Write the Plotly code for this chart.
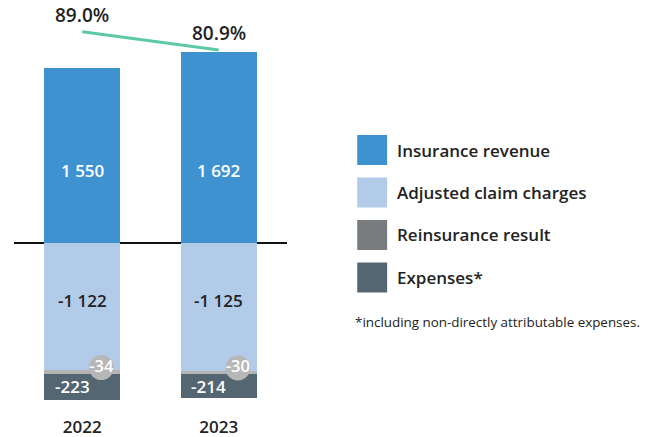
import plotly.graph_objects as go

# ---------------- data ----------------
years = ["2022", "2023"]
revenue = [1550, 1692]
claims = [-1122, -1125]
reinsurance = [-34, -30]
expenses = [-223, -214]
combined_ratio = [89.0, 80.9]
series_names = ["Insurance revenue", "Adjusted claim charges", "Reinsurance result", "Expenses*"]
footnote = "*including non-directly attributable expenses."

# ---------------- styles ----------------
C_REV = "#3e92d0"
C_CLAIM = "#b1cbe8"
C_REIN_BAR = "#b4b4b4"
C_REIN_LEG = "#797c7f"
C_EXP = "#546672"
C_LINE = "#5cc8a7"
C_TEXT = "#222222"
FONT = "Open Sans"

W, H = 646, 437
PL, PR = 13.5, 287.5      # plot area in pixels (x)
PT, PB = 8.0, 413.0       # plot area in pixels (y)
ZERO_PX = 243.3
SCALE = 0.1133            # px per unit
yr = [-(PB - ZERO_PX) / SCALE, (ZERO_PX - PT) / SCALE]

# secondary axis for combined ratio
R_PX = [31.7, 50.0]
r_scale = (R_PX[1] - R_PX[0]) / (combined_ratio[0] - combined_ratio[1])
def r_at(p):
    return combined_ratio[0] + (R_PX[0] - p) / r_scale
y2r = [r_at(PB), r_at(PT)]

def px_x(p):
    return (p - PL) / (PR - PL)

def px_y(p):
    return (PB - p) / (PB - PT)

def fmt(v):
    return f"{v:,}".replace(",", " ")

xs = list(range(len(years)))
BW = 0.555

fig = go.Figure()
fig.add_trace(go.Bar(x=xs, y=revenue, marker_color=C_REV, width=BW, name=series_names[0], showlegend=False))
fig.add_trace(go.Bar(x=xs, y=claims, marker_color=C_CLAIM, width=BW, name=series_names[1], showlegend=False))
fig.add_trace(go.Bar(x=xs, y=reinsurance, marker_color=C_REIN_BAR, width=BW, name=series_names[2], showlegend=False))
fig.add_trace(go.Bar(x=xs, y=expenses, marker_color=C_EXP, width=BW, name=series_names[3], showlegend=False))
for tr in fig.data:
    tr.marker.line.width = 0
    tr.hoverinfo = "skip"

# combined ratio line
fig.add_trace(go.Scatter(
    x=xs, y=combined_ratio, yaxis="y2", mode="lines",
    line=dict(color=C_LINE, width=3),
    showlegend=False, hoverinfo="skip", cliponaxis=False))

# reinsurance circles
CIRC_DX = 0.14
fig.add_trace(go.Scatter(
    x=[x + CIRC_DX for x in xs], y=[c + 25 for c in claims], mode="markers+text",
    marker=dict(size=25, color="#b7b7b7", line=dict(width=0)),
    text=[str(v) for v in reinsurance], textposition="middle center",
    textfont=dict(family=FONT, size=16.5, color="white", weight=600),
    showlegend=False, hoverinfo="skip", cliponaxis=False))

annotations = []
for x, v in zip(xs, combined_ratio):
    annotations.append(dict(x=x, y=v, yref="y2", text=f"{v:.1f}%", showarrow=False, yshift=17,
                            font=dict(family=FONT, size=19, color=C_TEXT, weight=600)))
rev_label_y = (ZERO_PX - 170) / SCALE
for x, v in zip(xs, revenue):
    annotations.append(dict(x=x, y=rev_label_y, text=fmt(v), showarrow=False,
                            font=dict(family=FONT, size=17, color="white", weight=600)))
for x, v in zip(xs, claims):
    annotations.append(dict(x=x, y=v / 2 + 60, text=fmt(v), showarrow=False,
                            font=dict(family=FONT, size=17, color=C_TEXT, weight=600)))
for x, c, r, e in zip(xs, claims, reinsurance, expenses):
    annotations.append(dict(x=x, y=c + r + e / 2, text=fmt(e), showarrow=False, xshift=-10,
                            font=dict(family=FONT, size=17, color="white", weight=600)))

# manual legend
shapes = []
LEG_X0, LEG_X1 = 358, 388
leg_rows = [135, 177.5, 220, 262.5]
leg_cols = [C_REV, C_CLAIM, C_REIN_LEG, C_EXP]
for name, col, top in zip(series_names, leg_cols, leg_rows):
    shapes.append(dict(type="rect", xref="paper", yref="paper",
                       x0=px_x(LEG_X0), x1=px_x(LEG_X1), y0=px_y(top + 30), y1=px_y(top),
                       fillcolor=col, line=dict(width=0)))
    annotations.append(dict(xref="paper", yref="paper", x=px_x(396), y=px_y(top + 15),
                            xanchor="left", yanchor="middle", text=name, showarrow=False,
                            font=dict(family=FONT, size=17, color=C_TEXT, weight=600)))
annotations.append(dict(xref="paper", yref="paper", x=px_x(354), y=px_y(322),
                        xanchor="left", yanchor="middle", text=footnote, showarrow=False,
                        font=dict(family=FONT, size=13.4, color=C_TEXT)))

fig.update_layout(
    width=W, height=H,
    margin=dict(l=PL, r=W - PR, t=PT, b=H - PB, pad=0, autoexpand=False),
    paper_bgcolor="white", plot_bgcolor="white",
    barmode="relative", bargap=0,
    xaxis=dict(range=[-0.5, 1.5], tickvals=xs, ticktext=years, showgrid=False, zeroline=False,
               showline=False, ticks="", automargin=False, ticklabelstandoff=2,
               tickfont=dict(family=FONT, size=17, color=C_TEXT, weight=600),
               fixedrange=True),
    yaxis=dict(range=yr, showgrid=False, zeroline=True, zerolinecolor="#111111", zerolinewidth=2,
               showticklabels=False, showline=False, ticks="", automargin=False, fixedrange=True),
    yaxis2=dict(range=y2r, overlaying="y", visible=False, fixedrange=True),
    shapes=shapes, annotations=annotations,
    showlegend=False, hovermode=False,
)

fig.write_html("out.html", config={"displayModeBar": False, "staticPlot": True},
               post_script="document.body.style.margin='0';document.body.style.overflow='hidden';")
